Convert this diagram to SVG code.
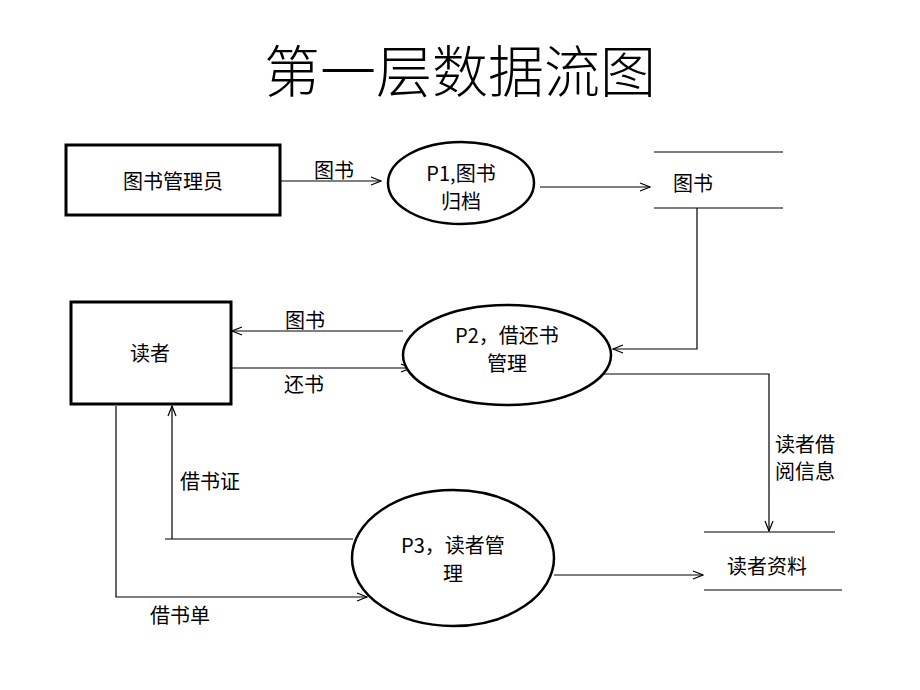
<svg xmlns="http://www.w3.org/2000/svg" width="920" height="690" viewBox="0 0 920 690">
<defs>
<style>
text{font-family:"Noto Sans CJK SC","Noto Sans",sans-serif;fill:#000;text-anchor:middle;dominant-baseline:central}
.t{font-size:20px}
.title{font-size:56px;font-weight:300}
.box{fill:#fff;stroke:#000;stroke-width:3}
.proc{fill:#fff;stroke:#000;stroke-width:2.5}
.line{fill:none;stroke:#000;stroke-width:1.2}
</style>
<marker id="arr" viewBox="0 0 12 10" refX="11" refY="5" markerWidth="12" markerHeight="10" markerUnits="userSpaceOnUse" orient="auto">
<path d="M1,1 L11,5 L1,9" fill="none" stroke="#000" stroke-width="1.2"/>
</marker>
</defs>
<rect width="920" height="690" fill="#fff"/>
<text class="title" x="460" y="67">第一层数据流图</text>

<g id="connectors">
<path class="line" d="M281,181 H381" marker-end="url(#arr)"/>
<text class="t" x="334" y="169">图书</text>
<path class="line" d="M540,187 H650" marker-end="url(#arr)"/>
<path class="line" d="M697,208 V349 H613" marker-end="url(#arr)"/>
<path class="line" d="M403,331 H232" marker-end="url(#arr)"/>
<text class="t" x="305" y="319">图书</text>
<path class="line" d="M232,368 H411" marker-end="url(#arr)"/>
<text class="t" x="304" y="383">还书</text>
<path class="line" d="M603,374 H769 V531" marker-end="url(#arr)"/>
<text class="t" x="805" y="443">读者借</text>
<text class="t" x="805" y="470">阅信息</text>
<path class="line" d="M353,539 H165 M172,539 V406" marker-end="url(#arr)"/>
<text class="t" x="210" y="480">借书证</text>
<path class="line" d="M116,406 V597 H367" marker-end="url(#arr)"/>
<text class="t" x="180" y="614">借书单</text>
<path class="line" d="M554,575 H703" marker-end="url(#arr)"/>
</g>

<g id="admin">
<rect class="box" x="66" y="145" width="214" height="70"/>
<text class="t" x="173" y="180">图书管理员</text>
</g>
<g id="p1">
<ellipse class="proc" cx="461" cy="183" rx="73" ry="41"/>
<text class="t" x="461" y="172">P1,图书</text>
<text class="t" x="461" y="200">归档</text>
</g>
<g id="store-books">
<path class="line" d="M654,152 H783 M654,208 H783"/>
<text class="t" x="693" y="182">图书</text>
</g>
<g id="reader">
<rect class="box" x="71" y="302" width="160" height="102"/>
<text class="t" x="150" y="352">读者</text>
</g>
<g id="p2">
<ellipse class="proc" cx="507" cy="355" rx="104" ry="50"/>
<text class="t" x="507" y="334">P2，借还书</text>
<text class="t" x="507" y="362">管理</text>
</g>
<g id="p3">
<ellipse class="proc" cx="453" cy="558" rx="101" ry="68"/>
<text class="t" x="453" y="544">P3，读者管</text>
<text class="t" x="453" y="572">理</text>
</g>
<g id="store-readers">
<path class="line" d="M704,532 H835 M704,590 H842"/>
<text class="t" x="767" y="565">读者资料</text>
</g>
</svg>
